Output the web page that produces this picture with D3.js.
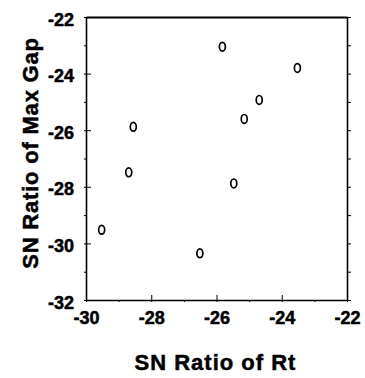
<!DOCTYPE html>
<html>
<head>
<meta charset="utf-8">
<script src="https://cdn.jsdelivr.net/npm/d3@7"></script>
<style>
  body { margin: 0; background: #fff; }
  text { font-family: "Liberation Sans", Arial, sans-serif; font-weight: bold; fill: #000; stroke: #000; stroke-width: 0.5px; }
</style>
</head>
<body>
<svg id="chart" width="365" height="378"></svg>
<script>
// SN ratio of Rt (x) vs SN ratio of max gap (y)
const rtRatio  = [-25.82, -23.52, -24.69, -25.15, -28.55, -28.69, -25.47, -29.52, -26.51];
const gapRatio = [-23.05, -23.80, -24.93, -25.60, -25.88, -27.49, -27.88, -29.52, -30.35];
const xTicks = [-30, -28, -26, -24, -22];
const yTicks = [-32, -30, -28, -26, -24, -22];
const xMinor = d3.range(-30, -21, 1);
const yMinor = d3.range(-32, -21, 1);

const margin = {top: 17, right: 18, bottom: 78, left: 86};
const width = 365 - margin.left - margin.right;
const height = 378 - margin.top - margin.bottom;

const svg = d3.select("#chart")
  .append("g")
  .attr("transform", "translate(" + margin.left + "," + margin.top + ")");

const x = d3.scaleLinear().domain([-30, -22]).range([0, width]);
const y = d3.scaleLinear().domain([-32, -22]).range([height, 0]);

// minor ticks first, then majors with labels
svg.append("g")
  .attr("transform", "translate(0," + height + ")")
  .call(d3.axisBottom(x).tickValues(xMinor).tickSize(2).tickFormat(""))
  .select(".domain").remove();
svg.append("g")
  .attr("transform", "translate(0," + height + ")")
  .call(d3.axisBottom(x).tickValues(xTicks).tickSizeInner(-5).tickSizeOuter(0).tickPadding(11)
    .tickFormat(d => d3.format("d")(d).replace("−", "-")))
  .call(g => g.select(".domain").attr("stroke-width", 1.6))
  .call(g => g.selectAll(".tick text").attr("font-size", 18).attr("dy", "0.72em"));

svg.append("g")
  .call(d3.axisLeft(y).tickValues(yMinor).tickSize(2).tickFormat(""))
  .select(".domain").remove();
svg.append("g")
  .call(d3.axisLeft(y).tickValues(yTicks).tickSizeInner(-5).tickSizeOuter(0).tickPadding(12)
    .tickFormat(d => d3.format("d")(d).replace("−", "-")))
  .call(g => g.select(".domain").attr("stroke-width", 1.6))
  .call(g => g.selectAll(".tick text").attr("font-size", 18).attr("dy", "0.45em"));

// right side: ticks pointing outward
svg.append("g")
  .attr("transform", "translate(" + width + ",0)")
  .call(d3.axisRight(y).tickValues(yMinor).tickSizeInner(4).tickSizeOuter(0).tickFormat(""))
  .select(".domain").attr("stroke-width", 1.6);

// top border
svg.append("g")
  .call(d3.axisTop(x).tickValues([]).tickSizeOuter(0))
  .select(".domain").attr("stroke-width", 2.2);

svg.selectAll("ellipse.pt")
  .data(rtRatio)
  .enter().append("ellipse")
  .attr("class", "pt")
  .attr("cx", d => x(d))
  .attr("cy", (d, i) => y(gapRatio[i]))
  .attr("rx", 3)
  .attr("ry", 4.4)
  .attr("fill", "none")
  .attr("stroke", "#000")
  .attr("stroke-width", 1.7);

svg.append("text")
  .attr("x", width / 2 - 1)
  .attr("y", height + 70)
  .attr("text-anchor", "middle")
  .attr("font-size", 22)
  .attr("letter-spacing", 1)
  .text("SN Ratio of Rt");

svg.append("text")
  .attr("transform", "translate(" + (38 - margin.left) + "," + (153 - margin.top) + ") rotate(-90)")
  .attr("text-anchor", "middle")
  .attr("font-size", 22)
  .attr("letter-spacing", 0.8)
  .text("SN Ratio of Max Gap");
</script>
</body>
</html>
